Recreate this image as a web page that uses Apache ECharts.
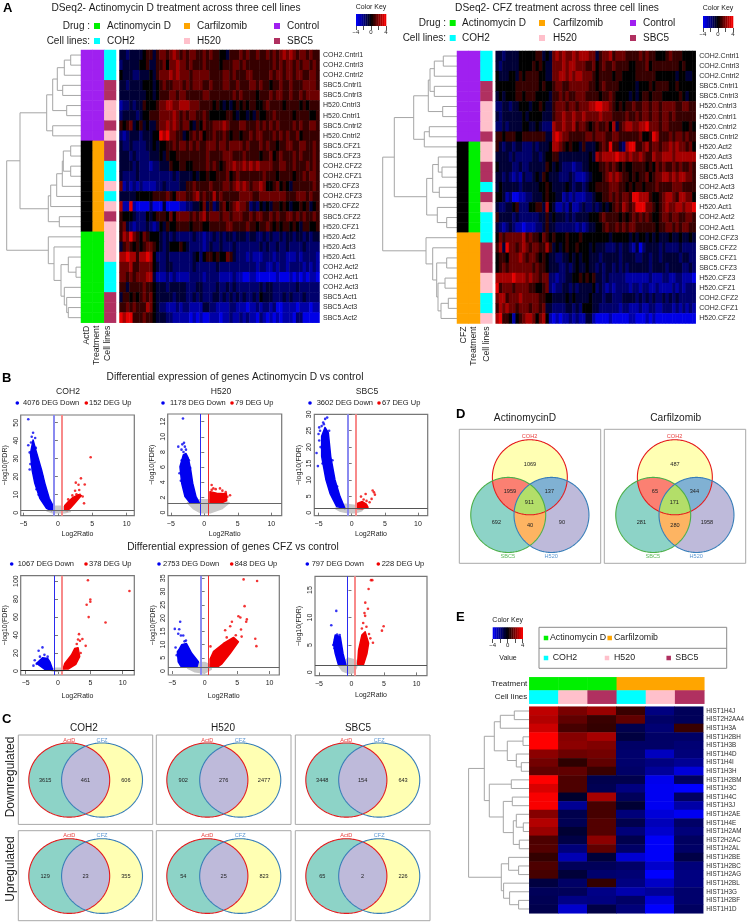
<!DOCTYPE html>
<html><head><meta charset="utf-8">
<style>html,body{margin:0;padding:0;background:#fff}#main{width:747px;height:922px}</style>
<script src="https://cdn.jsdelivr.net/npm/echarts@6/dist/echarts.min.js"></script>
</head><body><div id="main"></div>
<script>
// ---------- DATA: heatmap A (each digit is one colour step: 0 deep blue, 4 black, 8 bright red) ----------
const labelsActD=['COH2.Cntrl1','COH2.Cntrl3','COH2.Cntrl2','SBC5.Cntrl1','SBC5.Cntrl3','H520.Cntrl3','H520.Cntrl1','SBC5.Cntrl2','H520.Cntrl2','SBC5.CFZ1','SBC5.CFZ3','COH2.CFZ2','COH2.CFZ1','H520.CFZ3','COH2.CFZ3','H520.CFZ2','SBC5.CFZ2','H520.CFZ1','H520.Act2','H520.Act3','H520.Act1','COH2.Act2','COH2.Act1','COH2.Act3','SBC5.Act1','SBC5.Act3','SBC5.Act2'];
const labelsCFZ=['COH2.Cntrl1','COH2.Cntrl3','COH2.Cntrl2','SBC5.Cntrl1','SBC5.Cntrl3','H520.Cntrl3','H520.Cntrl1','H520.Cntrl2','SBC5.Cntrl2','H520.Act2','H520.Act3','SBC5.Act1','SBC5.Act3','COH2.Act3','SBC5.Act2','H520.Act1','COH2.Act2','COH2.Act1','COH2.CFZ3','SBC5.CFZ2','SBC5.CFZ1','SBC5.CFZ3','H520.CFZ3','H520.CFZ1','COH2.CFZ2','COH2.CFZ1','H520.CFZ2'];
const heatActD=[
'3323333455 3566567656 5665565655 4435556565 5655656567 6765665655',
'2333334453 3556466766 5655565555 4555665655 5555556565 6656566565',
'4333223334 3566676766 6566666555 5665655566 5555565665 6656655665',
'3323333444 3456556665 6566655655 5665565556 6565545565 5655566665',
'3333333344 3455566566 5555566555 5555656555 5455565665 5655656666',
'1223233544 4566776677 7666555545 4343454545 5445655554 5555454555',
'2333323445 5566667656 5665565444 4455434434 3544556555 5545555445',
'5456345343 3566767656 6435465566 6765556655 5656565655 5565655665',
'2123332333 4487866553 4565645565 5654554556 5665556565 6556455555',
'3223222233 4344556566 5656556665 6656666565 5565655455 6655665565',
'3332322223 3343544555 5555556555 5666555655 5545564565 5565655565',
'3333232221 2233354455 4455556565 4566766767 6766665566 5565556565',
'3222232222 2222223233 3343445445 5564565555 5556555455 5545565665',
'6121212111 1223222233 5565555655 5665676765 6676445645 4355555565',
'3333344444 5555654666 5567565575 6555556666 5566666666 5556665655',
'7118100002 0003000011 2233463523 5645676652 3243435545 4344545345',
'5444322243 4555464666 6565675666 5665666556 5665565655 6656565565',
'5632122232 1243544555 5455544555 5566555565 5455654545 5454355445',
'5768654654 4432323222 2232212232 3233233323 3223232232 3323323233',
'3565454566 5432344454 3222212322 3222322222 2232322322 3222232222',
'7787757787 4222322222 2234245545 4465322212 1112221222 1112122221',
'6667556666 4322332222 2232222223 2222222222 2122112122 1222212121',
'6656566677 3111212111 1222212222 1111211001 1000000100 0101010110',
'5535555655 4333233333 2223322223 2232322222 2232332222 2223222222',
'3554545656 4333332333 2232322233 2323232322 3243332223 2322232222',
'5565655576 4322111212 2111133221 1112211101 1212212001 1110111011',
'8788555655 4333221111 1010100111 0112112121 1021010101 1102200000'];
const heatCFZ=[
'3323333444 4455343676 7667677766 3566756665 5556565544 4565554444',
'3233333444 4545433666 7677666556 4565565555 4455564555 5555545444',
'4333443545 5554433667 7676776665 4555545544 4455555544 4444344334',
'4444445555 5554544566 5566666655 4565555444 4434445455 5544544444',
'3434445545 5544443556 5655666555 5455654444 3434554555 4444454344',
'2233233444 3445433566 6566566677 8877654545 5655665665 6666556655',
'3233333343 4444333566 7667667666 6766655556 5565665665 6656555555',
'2232333344 3343222766 7667566545 6556473567 7667786665 6655554454',
'5545554455 5555533787 6655555665 6665566555 5556445875 5565665655',
'5323323322 2323334776 5454435333 4565855327 8855675665 6676766564',
'3333232222 2332344553 3333333343 7677778776 7667655766 7776777777',
'4333322322 3333354343 2221223344 4556565454 4555545465 6556565565',
'3323212132 2343543332 2232111234 4456767655 4545564566 7767677665',
'3433333233 3334454333 3432332344 5555666554 5455455565 5556665555',
'4431200112 2333454433 1212111223 4455656566 5887775445 6776577664',
'3223345222 4455374311 2131123223 2343456576 5688866545 6766776778',
'5333323222 2223353433 3232333344 4565555454 5656565445 6656655665',
'3212321101 1122353322 2222121233 4456556565 6655555545 5665656655',
'4656666675 6554654544 4544454444 4444344444 3434434343 3343343343',
'5738665676 5665575343 4544544434 3332223233 2130233332 3222232222',
'4554666765 6654543322 3343434433 3233333233 3322332332 3333323322',
'4565666666 6565543332 2323433433 2323323232 3333332333 3233332232',
'7777787776 7665662212 2334454545 3323222221 1111112111 2211221110',
'8566656666 5544562122 3323233334 2321212222 1221221121 1112121222',
'6775666766 6665544333 3434333343 3323322233 3323232322 3232322222',
'5767665666 5665633222 2332324443 3222222122 1112112211 2221212121',
'7855414567 7646741010 1121211331 0000100000 1100010100 0000000000'];
// one heat value per digit 0..8, read against the colour key
const digitValues=[-3.6,-2.6,-1.7,-.85,0,.85,1.7,2.6,3.6];
// dendrograms: [height, left, right], a plain number is a row
const treeActD=[74.3,[61,[34.3,[28.3,[23.7,[16.7,[10.3,0,1],2],[18.3,3,4]],[14.3,5,6]],[28.3,7,8]],[32.7,[30.3,[24.3,[18.7,[17.7,[10.3,9,10],[10.3,11,12]],13],14],15],[21.7,16,17]]],[32.7,18,[27,19,[20,[12.7,20,[5,21,22]],[16.7,23,[14.3,24,[12.7,25,26]]]]]]];
const treeCFZ=[74.3,[62.7,[43.3,[28.7,[27,[22.7,[13.7,0,1],2],[22.7,3,4]],[14.3,5,6]],[32.7,[27.7,7,8],9]],[30.3,[24.3,[18.7,10,[15,11,12]],[17.7,13,14]],[19.7,15,[10.3,16,17]]]],[31,18,[24.3,19,[20.3,[10.3,20,21],[19,[12,22,23],[16,[8.7,24,25],26]]]]]];
// ---------- DATA: panel E ----------
const histones=['HIST1H4J','HIST2H2AA4','HIST1H3A','HIST1H2BH','HIST1H3B','HIST1H4D','HIST1H4I','HIST1H3H','HIST1H2BM','HIST1H3C','HIST1H4C','HIST1H3J','HIST1H2AE','HIST1H4E','HIST1H2AM','HIST2H2AC','HIST1H2AL','HIST1H2BE','HIST1H2BC','HIST1H2AG','HIST1H2BL','HIST1H3G','HIST1H2BF','HIST1H1D'];
const histoneValues=[[3,1.9,2.4,.9,-2,-1.4],[2.8,1.5,.9,1.5,-1.6,-1.4],[3.2,1.1,.8,-1.2,-1.8,.9],[4,2.1,2.6,-1,-1.6,-1.6],[4,2.2,2,-1.6,-1.6,-1.8],[2.2,1.7,1.8,-1.7,-3,-1.9],[1.8,.7,1.5,-1.7,-2,-2.3],[1.5,1.5,.9,-1.6,-2.4,-3.4],[4,1.2,-1.2,-1.2,-3.7,-1.5],[3.4,1.2,-1.3,-2,-3.8,-4],[3.9,-.7,2.6,-1.4,-3.8,-1.5],[3.9,-2.3,1.1,-.8,-3.8,-2.6],[2.1,-1.2,1.1,-1.9,-3.4,-3.8],[2.8,-1.3,1.3,-1.2,-2.9,-1.6],[2.4,-.8,1.3,-1.9,-3.2,-1.9],[1.2,-1.1,2.2,-1.2,-3.9,-1.5],[1.3,-1.9,1.5,-1.6,-3.9,-1.6],[.8,-2.8,-.9,-3.3,-3.9,-1.1],[1.2,-1.4,-1.4,-1.6,-3.2,-1.9],[1.1,-.9,-1.7,-1.8,-4,-2],[-1,-1.6,.8,-2,-3.1,-2],[-1.4,-1.4,-2.1,-2.7,-2.4,-1.7],[-1.3,-2.1,-2,-1.6,-3.4,-1.7],[-1.2,-3.2,-1.1,-1.9,-4,-1.5]];
const treeHist=[60.7,[45,[35,[29,[15,0,1],2],[22,[6.3,3,4],[13,5,[8,6,7]]]],[40,[18,8,9],[26,[17,10,11],[16,[13,12,[6,13,14]],[10,15,16]]]]],[28,[20.7,17,[10.7,18,19]],[25.7,20,[19.7,21,[10.7,22,23]]]]];
const histTreatment=['Act','Act','Act','CFZ','CFZ','CFZ'];
const histCells=['COH2','H520','SBC5','COH2','H520','SBC5'];
const keySteps=[-4,-3.5,-3,-2.5,-2,-1.5,-1,-.5,0,.5,1,1.5,2,2.5,3,3.5];
// ---------- DATA: volcano panels (dense clouds as outlines, sparse points one by one) ----------
const v1Gray=[[-1.6,1],[-1,3],[-.3,3.6],[.6,3.6],[1.3,2.4],[1.8,.6],[1,0],[-.8,0]];
const v1BlueCloud=[[-3.6,40.4],[-3.98,33],[-3.74,23.7],[-3.35,16.3],[-2.62,8],[-1.65,2.4],[-.93,1.2],[-.68,1.6],[-.77,4.3],[-1.26,8],[-1.89,16.3],[-2.37,23.7],[-3.2,34.8]];
const v1RedCloud=[[1,1.3],[1,4],[1.6,6.5],[2.2,8.5],[3,10],[3.4,9.5],[2.6,6],[1.8,2.5],[1.4,1.2]];
const v1BlueDots=[[-4.3,51.9],[-3.6,44.4],[-3.8,42.2],[-3.3,41.5],[-4.3,37.5],[-3.9,39],[-4.1,24],[-4.1,33.5],[-3.2,36],[-4,27],[-3.5,37],[-2.9,26],[-2.2,20],[-3.1,13],[-2.8,10]];
const v1RedDots=[[4.76,30.8],[3.35,19.1],[2.6,16.7],[3.9,15.7],[3,15.5],[2.5,12.2],[3.1,12.6],[3.6,9],[3.8,5.2],[2.7,10.2],[3.2,10],[1.5,7.4],[2.1,9.6]];
const v2Gray=[[-2.5,1.3],[-1.6,.5],[-.6,0],[1,0],[2.6,.5],[3.7,1.3],[2,1.7],[-1,1.7]];
const v2BlueCloud=[[-3.13,7.6],[-3.63,6.07],[-3.37,3.88],[-2.88,2.11],[-2.13,1.3],[-.75,1.3],[-1.24,2.11],[-1.73,3.88],[-2.03,5.63],[-2.39,7.2],[-2.73,7.8]];
const v2RedCloud=[[.85,1.3],[.85,2.77],[1.85,2.55],[3.3,2.5],[3.34,1.6],[2.6,1.3]];
const v2BlueDots=[[-3.18,12.4],[-3.03,9.2],[-3.28,9],[-3.88,8.7],[-3.4,8.3],[-2.73,8.3],[-3.37,6.9],[-3.5,4.2],[-3.1,8],[-2.6,7.2],[-3.7,5.2],[-2.9,8.7],[-2.3,6.9],[-2.1,5.9],[-2.9,6.5]];
const v2RedDots=[[1.1,3.65],[1.35,3.2],[3.44,2.1],[2.34,3.2],[3.84,2.3],[2.7,2.9],[1.7,3.1],[3.2,2.7],[1.1,3]];
const v3Gray=[[-2.5,1.3],[-1.7,.4],[-.6,0],[.6,0],[1.5,.6],[1.8,1.5],[.6,2.2],[-1,2.6]];
const v3BlueCloud=[[-4.03,26],[-4.53,23.3],[-4.53,17.2],[-3.88,10],[-3.27,5.9],[-2.26,1.85],[-1.01,1.3],[-1.76,4.9],[-2.52,10],[-3.17,17.2],[-3.53,24.4]];
const v3RedCloud=[[.75,1.3],[.85,2.8],[1.6,3.4],[2.2,2.6],[2.46,1.6],[1.6,1.2]];
const v3BlueDots=[[-4,28.6],[-3.7,29],[-4.3,27.5],[-4.9,26],[-4.78,25],[-4.53,26.4],[-5.3,18.2],[-5.1,14.2],[-4.9,22],[-5,24],[-4.7,20],[-4.2,27],[-3.4,25],[-2.9,16],[-4.4,15],[-2.2,8]];
const v3RedDots=[[3.16,6.75],[3.36,6.2],[2.1,5.7],[1.4,4.9],[3,4.2],[2.24,3.6],[2.24,1.8],[3.5,5.5],[2.7,3.2],[1.8,4]];
const v4Gray=[[-1.4,1],[-.6,3],[.5,3],[1.1,1],[.6,0],[-.8,0]];
const v4BlueCloud=[[-3.3,8.5],[-2.4,14.8],[-1.6,14],[-1.26,10.2],[-.85,1.9],[-2.03,1.9]];
const v4RedCloud=[[.78,2.2],[1.05,8.5],[2.07,17.8],[2.58,25],[3.1,26],[3.35,16],[2.74,7.4],[1.55,2.2]];
const v4BlueDots=[[-2.4,26.3],[-3,22.6],[-3.6,12],[-3.3,8],[-2.8,16],[-3.8,6],[-2.1,18],[-1.6,16]];
const v4RedDots=[[4.63,101],[11.05,89],[5,79.6],[5,77],[4.43,73.7],[4.74,60],[7.35,54],[3.25,41],[3.77,35.6],[3.4,33.7],[4.28,28],[3.1,35],[2.9,30],[3.5,20]];
const v5Gray=[[-2.6,1],[-1.5,3],[0,3.2],[1,2.2],[1,.6],[0,-.8],[-1.5,-.3]];
const v5BlueCloud=[[-4.2,7.3],[-4.07,3.5],[-3.55,1.4],[-1.2,1.4],[-.97,3.5],[-2,6.7],[-2.8,10.4],[-3.55,9.9],[-3.97,8]];
const v5RedCloud=[[.84,1.4],[.84,4.5],[1.35,7.3],[2.9,10.4],[4.45,12.7],[5.2,11],[3.94,6.7],[2.65,2.7],[1.88,1.4]];
const v5BlueDots=[[-3.77,18.6],[-4.6,15.9],[-3.92,15.8],[-4.07,14.1],[-3.66,13.4],[-4.48,8.9],[-2.88,11.5],[-3.3,13.4],[-3.1,11.2],[-4.3,6]];
const v5RedDots=[[6,34.6],[8.08,34],[6.15,24.5],[5.2,20.7],[5.5,20.2],[6.5,19.5],[6.4,18.6],[4.2,18.6],[3.94,16.9],[5.6,15.7],[3.16,15.4],[7.8,12.2],[7.97,9.4],[5.7,13],[4.8,13.5],[3.4,12.7],[.9,9.3]];
const v6Gray=[[-2,1.3],[-1.4,.3],[-.4,-.2],[.4,0],[.8,1],[.7,2.2],[-.5,2.6]];
const v6BlueCloud=[[-2.75,5.3],[-2.5,6.8],[-1.72,6.5],[-1.3,3.46],[-.85,1.3],[-1.98,1.3],[-2.5,3.46]];
const v6RedCloud=[[.94,1.5],[1.09,4.06],[1.6,6.8],[2.1,7.4],[2.63,5.3],[2.38,3.46],[1.86,1.5]];
const v6BlueDots=[[-2.33,11.2],[-3.1,8.6],[-2.2,6.9],[-2.8,5],[-1.8,6.8],[-2.5,6],[-2.6,4.4]];
const v6RedDots=[[3,16.8],[3.2,16.8],[2.63,15.2],[2.12,12.7],[2.53,11.6],[2,10.8],[2.1,10.3],[4.94,8.4],[4.68,7.6],[3.3,5.4],[2.9,6.2],[1.6,8],[2.3,8.3],[2.7,7],[1.8,9]];
// ---------- DATA: Venn counts ----------
const vennDown=[[3615,461,606],[902,276,2477],[3448,154,643]];
const vennUp=[[129,23,355],[54,25,823],[65,2,226]];
const vennActD=[1069,1959,137,911,692,40,90];
const vennCarf=[487,65,344,171,281,280,1958];

// ---------- helpers ----------
const FONT="'Liberation Sans',Arial,sans-serif", INK='#1c1c1c';
const COL={green:'#00f000',orange:'#ffa500',purple:'#a020f0',black:'#000000',cyan:'#00ffff',pink:'#ffc0cb',maroon:'#b03060'};
const palette=Object.keys(COL);
const palIdx=n=>palette.indexOf(n);
const option={animation:false,backgroundColor:'#fff',textStyle:{fontFamily:FONT},grid:[],xAxis:[],yAxis:[],series:[],visualMap:[],graphic:{elements:[]}};
const G=option.graphic.elements, heatIdx=[], sideIdx=[];
function T(text,x,y,size,o={}){G.push({type:'text',x,y,rotation:o.rot||0,silent:true,z:20,style:{text,fontSize:size,fontFamily:FONT,fontWeight:o.weight||'normal',fill:o.fill||INK,align:o.align||'left',verticalAlign:'middle'}});}
function SQ(x,y,s,c){G.push({type:'rect',silent:true,z:20,shape:{x:x-s/2,y:y-s/2,width:s,height:s},style:{fill:c}});}
function DOT(x,y,c){G.push({type:'circle',silent:true,z:20,shape:{cx:x,cy:y,r:1.8},style:{fill:c}});}
function addGrid(x,y,w,h,xa,ya,extra={}){const i=option.grid.length;option.grid.push(Object.assign({left:x,top:y,width:w,height:h,show:false},extra));option.xAxis.push(Object.assign({gridIndex:i},xa));option.yAxis.push(Object.assign({gridIndex:i},ya));return i;}
const hiddenVal=(min,max,inv)=>({type:'value',min,max,inverse:!!inv,show:false,splitLine:{show:false}});
const hiddenCat=data=>({type:'category',data,show:false});
const range=n=>Array.from({length:n},(_,i)=>i);
function heatSeries(g,data){heatIdx.push(option.series.length);option.series.push({type:'heatmap',xAxisIndex:g,yAxisIndex:g,data,progressive:0,silent:true});}
function sideSeries(g,data){sideIdx.push(option.series.length);option.series.push({type:'heatmap',xAxisIndex:g,yAxisIndex:g,data,progressive:0,silent:true});}
const parseRows=rows=>rows.flatMap((r,y)=>[...r.replace(/ /g,'')].map((c,x)=>[x,y,digitValues[+c]]));
function rowAxis(labels,size,margin){return {type:'category',data:labels,inverse:true,position:'right',axisLine:{show:false},axisTick:{show:false},axisLabel:{fontSize:size,color:'#2a2a2a',margin,interval:0,fontFamily:FONT}};}
function keyColor(v){const t=Math.abs(v)/4,c=Math.round(255*t);return v<0?`rgb(0,0,${c})`:`rgb(${c},0,0)`;}
function colorKey(x,y,w,h){const g=addGrid(x,y,w,h,{type:'value',min:-4,max:4,interval:2,splitLine:{show:false},axisLine:{show:false},axisTick:{length:4,lineStyle:{color:'#222',width:.8}},axisLabel:{fontSize:6,color:INK,margin:3,customValues:[-4,0,4],formatter:v=>String(v).replace('-','\u2212')}},hiddenVal(0,1));
 option.series.push({type:'custom',xAxisIndex:g,yAxisIndex:g,silent:true,data:keySteps.map(v=>[v,0]),encode:{x:0,y:1},renderItem:(p,api)=>{const v=api.value(0),a=api.coord([v,1]),b=api.coord([v+.5,0]);return {type:'rect',shape:{x:a[0],y:a[1],width:b[0]-a[0]+.3,height:b[1]-a[1]},style:{fill:keyColor(v+.25)}};}});}
function flattenTree(node,out){if(typeof node==='number')return {y:node+.5,h:0};const l=flattenTree(node[1],out),r=flattenTree(node[2],out);out.push([l.h,l.y,node[0],r.y,r.h]);return {y:(l.y+r.y)/2,h:node[0]};}
function dendro(x,y,w,h,tree,hmax,rows){const segs=[];flattenTree(tree,segs);const g=addGrid(x,y,w,h,hiddenVal(0,hmax,true),hiddenVal(0,rows,true));
 option.series.push({type:'custom',xAxisIndex:g,yAxisIndex:g,silent:true,data:segs,encode:{x:2,y:1},renderItem:(p,api)=>{const [h1,y1,hh,y2,h2]=[0,1,2,3,4].map(i=>api.value(i));return {type:'polyline',shape:{points:[api.coord([h1,y1]),api.coord([hh,y1]),api.coord([hh,y2]),api.coord([h2,y2])]},style:{stroke:'#a6a6a6',lineWidth:1,fill:null}};}});}
function cellColors(labels,focal){const t=l=>l.includes('Cntrl')?'purple':(l.includes('CFZ')?'orange':'green');const cell=l=>({COH2:'cyan',H520:'pink',SBC5:'maroon'})[l.slice(0,4)];const out=[];labels.forEach((l,y)=>{out.push([0,y,palIdx(t(l)==='purple'?'purple':(t(l)===focal?focal:'black'))]);out.push([1,y,palIdx(t(l))]);out.push([2,y,palIdx(cell(l))]);});return out;}

// ---------- panel A ----------
function panelA(o){
 T(o.title,o.titleX,8,10.2,{align:'center'});
 T('Drug :',o.capX,o.y1,10,{align:'right'});T('Cell lines:',o.capX,o.y2,10,{align:'right'});
 [['Actinomycin D','green','COH2','cyan'],['Carfilzomib','orange','H520','pink'],['Control','purple','SBC5','maroon']].forEach((r,i)=>{
  SQ(o.sq[i],o.y1,6,COL[r[1]]);T(r[0],o.tx[i],o.y1,10);SQ(o.sq[i],o.y2,6,COL[r[3]]);T(r[2],o.tx[i],o.y2,10);});
 T('Color Key',o.keyX+15,o.keyLabelY,7,{align:'center'});colorKey(o.keyX,o.keyY,30,12);
 dendro(o.dx,o.y,o.sx-o.dx,o.h,o.tree,o.sx-o.dx,27);
 const s=addGrid(o.sx,o.y,o.sw,o.h,hiddenCat(range(3)),Object.assign(hiddenCat(o.labels),{inverse:true}));sideSeries(s,cellColors(o.labels,o.focal));
 const h=addGrid(o.hx,o.y,200,o.h,hiddenCat(range(60)),rowAxis(o.labels,7,3.5));heatSeries(h,parseRows(o.heat));
 [[o.focalLabel,o.rotX[0]],['Treatment',o.rotX[1]],['Cell lines',o.rotX[2]]].forEach(r=>T(r[0],r[1],o.y+o.h+3,8.7,{rot:Math.PI/2,align:'right'}));
}
panelA({title:'DSeq2- Actinomycin D treatment across three cell lines',titleX:176,capX:90,y1:26,y2:41,sq:[97,187,277],tx:[107,197,287],keyX:356,keyY:14,keyLabelY:7,dx:6,sx:81,sw:35,y:50,h:272.7,tree:treeActD,labels:labelsActD,focal:'green',hx:119.5,heat:heatActD,focalLabel:'ActD',rotX:[87,97,108]});
panelA({title:'DSeq2- CFZ treatment across three cell lines',titleX:557,capX:446,y1:23,y2:38,sq:[452.7,542,633],tx:[462,553,643],keyX:703,keyY:16,keyLabelY:8,dx:382,sx:457,sw:35.3,y:51,h:272.5,tree:treeCFZ,labels:labelsCFZ,focal:'orange',hx:495.7,heat:heatCFZ,focalLabel:'CFZ',rotX:[464,474,486.7]});

// ---------- panel B ----------
const softBlue={color:'#8a8af0',width:2},hardBlue={color:'#2a2af0',width:1},softRed={color:'#f88a8a',width:2},hardRed={color:'#f02a2a',width:1};
const volcanoes=[
{t:'COH2',tx:68,box:[20.7,415,113.6,100.7],xr:[-5.4,11.1],yr:[-1.67,54.3],yt:[0,10,20,30,40,50],gray:v1Gray,bc:v1BlueCloud,rc:v1RedCloud,bd:v1BlueDots,rd:v1RedDots,hl:1.1,hc:'#666',vb:softBlue,vr:softRed,ly:403,ng:14.5,bl:[17.3,23,'4076 DEG Down'],rl:[86.3,89,'152 DEG Up']},
{t:'H520',tx:221,box:[167.7,414,114,101.7],xr:[-5.46,11.55],yr:[-.4,13],yt:[0,2,4,6,8,10,12],gray:v2Gray,bc:v2BlueCloud,rc:v2RedCloud,bd:v2BlueDots,rd:v2RedDots,hl:1.3,hc:'#666',vb:hardBlue,vr:hardRed,ly:403,ng:14.5,bl:[163,170,'1178 DEG Down'],rl:[232,235,'79 DEG Up']},
{t:'SBC5',tx:367,box:[314.3,414.3,113.4,101.4],xr:[-5.64,11.46],yr:[-.92,30],yt:[0,5,10,15,20,25,30],gray:v3Gray,bc:v3BlueCloud,rc:v3RedCloud,bd:v3BlueDots,rd:v3RedDots,hl:1.23,hc:'#555',vb:softBlue,vr:softRed,ly:403,ng:14.5,bl:[310,316.7,'3602 DEG Down'],rl:[379,382,'67 DEG Up']},
{box:[20.7,575.7,113.6,99.3],xr:[-5.77,11.8],yr:[-4.4,106],yt:[0,20,40,60,80,100],gray:v4Gray,bc:v4BlueCloud,rc:v4RedCloud,bd:v4BlueDots,rd:v4RedDots,hl:.9,hc:'#222',vb:hardBlue,vr:softRed,ly:564,ng:17.5,bl:[11.7,17.7,'1067 DEG Down'],rl:[86,89,'378 DEG Up']},
{box:[168.3,575.7,111,99.3],xr:[-5.6,11.5],yr:[-1.5,36],yt:[0,5,10,15,20,25,30,35],gray:v5Gray,bc:v5BlueCloud,rc:v5RedCloud,bd:v5BlueDots,rd:v5RedDots,hl:1.4,hc:'#666',vb:softBlue,vr:hardRed,ly:564,ng:17.5,bl:[159,163,'2753 DEG Down'],rl:[231.7,234.7,'848 DEG Up']},
{box:[315,576.3,112,99.4],xr:[-5.6,11.6],yr:[-.6,17.5],yt:[0,5,10,15],gray:v6Gray,bc:v6BlueCloud,rc:v6RedCloud,bd:v6BlueDots,rd:v6RedDots,hl:1.27,hc:'#555',vb:hardBlue,vr:softRed,ly:564,ng:15.5,bl:[307.3,311.7,'797 DEG Down'],rl:[378.3,381.7,'228 DEG Up']}];
const xTickVals=[-5,0,5,10];
const minus=v=>String(v).replace('-','\u2212');
function cloud(g,pts,color,extra){const s={type:'custom',xAxisIndex:g,yAxisIndex:g,silent:true,data:pts,encode:{x:0,y:1},renderItem:(p,api)=>p.dataIndex?null:{type:'polygon',shape:{points:pts.map(q=>api.coord(q))},style:{fill:color,stroke:color,lineWidth:1.5,lineJoin:'round'}}};option.series.push(Object.assign(s,extra||{}));}
volcanoes.forEach(v=>{
 const [x,y,w,h]=v.box;
 const tickLine={length:3,lineStyle:{color:'#555',width:.8}};
 const g=addGrid(x,y,w,h,{type:'value',min:v.xr[0],max:v.xr[1],splitLine:{show:false},axisLine:{show:false},axisTick:Object.assign({customValues:xTickVals},tickLine),axisLabel:{customValues:xTickVals,fontSize:7,color:INK,margin:4.5,formatter:minus},name:'Log2Ratio',nameLocation:'middle',nameGap:v.ng,nameTextStyle:{fontSize:7,color:INK}},
  {type:'value',min:v.yr[0],max:v.yr[1],splitLine:{show:false},axisLine:{show:false},axisTick:Object.assign({customValues:v.yt},tickLine),axisLabel:{customValues:v.yt,fontSize:7,color:INK,margin:1.5,rotate:90,formatter:minus},name:'\u2212log10(FDR)',nameLocation:'middle',nameRotate:90,nameGap:12,nameTextStyle:{fontSize:7,color:INK}},
  {show:true,borderColor:'#777',borderWidth:1.2,backgroundColor:'transparent'});
 cloud(g,v.gray,'#c8c8c8',{markLine:{silent:true,symbol:'none',label:{show:false},z:9,animation:false,data:[{xAxis:-.58,lineStyle:Object.assign({type:'solid'},v.vb)},{xAxis:.58,lineStyle:Object.assign({type:'solid'},v.vr)},{yAxis:v.hl,lineStyle:{type:'solid',color:v.hc,width:1}}]}});
 cloud(g,v.bc,'#0000f0');cloud(g,v.rc,'#f00000');
 option.series.push({type:'scatter',xAxisIndex:g,yAxisIndex:g,silent:true,data:v.bd,symbolSize:2.6,itemStyle:{color:'#0000f0'}});
 option.series.push({type:'scatter',xAxisIndex:g,yAxisIndex:g,silent:true,data:v.rd,symbolSize:2.6,itemStyle:{color:'#f00000'}});
 if(v.t)T(v.t,v.tx,392,8.6,{align:'center'});
 DOT(v.bl[0],v.ly,'#0000f0');T(v.bl[2],v.bl[1],v.ly,7.5);DOT(v.rl[0],v.ly,'#f00000');T(v.rl[2],v.rl[1],v.ly,7.5);
});
T('Differential expression of genes Actinomycin D vs control',235,377,10.2,{align:'center'});
T('Differential expression of genes CFZ vs control',233,547,10.2,{align:'center'});

// ---------- Venn ----------
function ring(c,px,py,rx,ry){return range(240).map(i=>{const a=i/240*2*Math.PI;return [px+rx*Math.cos(a),py+ry*Math.sin(a)];});}
function venn(x,y,w,h,circles,regions,texts){
 const g=addGrid(x,y,w,h,hiddenVal(0,100),hiddenVal(0,100,true),{show:true,borderColor:'#a8a8a8',borderWidth:1,backgroundColor:'transparent'});
 option.series.push({type:'custom',xAxisIndex:g,yAxisIndex:g,silent:true,data:circles.map(c=>[c[0],c[1]]),encode:{x:0,y:1},renderItem:(p,api)=>{
  if(p.dataIndex)return null;
  const C=circles.map(c=>{const o=api.coord([c[0],c[1]]),a=api.coord([c[0]+c[2],c[1]+c[3]]);return {px:o[0],py:o[1],rx:Math.abs(a[0]-o[0]),ry:Math.abs(a[1]-o[1]),stroke:c[4]};});
  const inside=(q,k)=>((q[0]-k.px)/k.rx)**2+((q[1]-k.py)/k.ry)**2<=1.0001;
  const ch=[];
  regions.forEach(r=>{const ms=r[0].map(i=>C[i]);let pts=[];ms.forEach(m=>{ring(0,m.px,m.py,m.rx,m.ry).forEach(q=>{if(ms.every(o=>o===m||inside(q,o)))pts.push(q);});});
   const cx=pts.reduce((s,q)=>s+q[0],0)/pts.length,cy=pts.reduce((s,q)=>s+q[1],0)/pts.length;pts.sort((a,b)=>Math.atan2(a[1]-cy,a[0]-cx)-Math.atan2(b[1]-cy,b[0]-cx));
   ch.push({type:'polygon',shape:{points:pts},style:{fill:r[1]}});});
  C.forEach(k=>ch.push({type:'polygon',shape:{points:ring(0,k.px,k.py,k.rx,k.ry)},style:{fill:null,stroke:k.stroke,lineWidth:1.1}}));
  texts.forEach(t=>{const q=api.coord([t[0],t[1]]);ch.push({type:'text',x:q[0],y:q[1],style:{text:String(t[2]),fontSize:5.6,fontFamily:FONT,fill:t[3]||'#222',align:'center',verticalAlign:'middle'}});});
  return {type:'group',children:ch};}});
}
const TEAL='#8dd3c7',YEL='#ffffb3',LAV='#bebada';
const vennCols=[[18.3,134.4],[156.3,134.7],[295.3,134.7]],vennRows=[[735,89.4],[830.7,90]];
[vennDown,vennUp].forEach((set,r)=>set.forEach((n,c)=>{
 venn(vennCols[c][0],vennRows[r][0],vennCols[c][1],vennRows[r][1],[[37.9,50.4,30.1,41.5,'#e41a1c'],[62.3,50.4,30.1,41.5,'#377eb8']],[[[0],TEAL],[[1],YEL],[[0,1],LAV]],
  [[37.9,5.7,'ActD','#e8403f'],[62.3,5.7,'CFZ','#5a96d2'],[20,50.4,n[0]],[50,50.4,n[1]],[80,50.4,n[2]]]);}));
['COH2','H520','SBC5'].forEach((t,i)=>T(t,[84,223,358][i],728,10,{align:'center'}));
T('Downregulated',11,777,12,{rot:Math.PI/2,align:'center'});T('Upregulated',11,869,12,{rot:Math.PI/2,align:'center'});
const vennSlots3=[[50,26.6],[35.8,46.3],[63.7,46.3],[49.5,54.7],[26.2,69.4],[50,71.6],[72.6,69.4]];
[[459.3,vennActD],[604.3,vennCarf]].forEach(b=>{
 venn(b[0],429.3,141.4,134,[[49.9,35.8,26.5,28,'#e41a1c'],[34.6,63.9,26.5,28,'#4daf4a'],[65.2,63.9,26.5,28,'#377eb8']],
  [[[0],YEL],[[1],TEAL],[[2],LAV],[[0,1],'#fb8072'],[[0,2],'#80b1d3'],[[1,2],'#fdb462'],[[0,1,2],'#b3de69']],
  [[49.7,5.5,'COH2','#e8403f'],[34.3,95,'SBC5','#5cb85a'],[65,95,'H520','#5a96d2']].concat(vennSlots3.map((s,i)=>[s[0],s[1],b[1][i]])));});
T('ActinomycinD',525,418,10.2,{align:'center'});T('Carfilzomib',675.7,418,10.2,{align:'center'});

// ---------- panel E ----------
T('Color Key',507.7,620,7,{align:'center'});colorKey(492.7,627.3,30,11.7);T('Value',508,658,7,{align:'center'});
G.push({type:'rect',silent:true,z:19,shape:{x:539,y:627.3,width:187.7,height:41},style:{fill:'none',stroke:'#8a8a8a',lineWidth:1}});
G.push({type:'line',silent:true,z:19,shape:{x1:539,y1:648.3,x2:726.7,y2:648.3},style:{stroke:'#8a8a8a',lineWidth:1}});
SQ(546,638,4.5,COL.green);T('Actinomycin D',550,638,8.8);SQ(609.7,638,4.5,COL.orange);T('Carfilzomib',614,638,8.8);
SQ(546,658,4.5,COL.cyan);T('COH2',552.7,658,8.8);SQ(607,658,4.5,COL.pink);T('H520',614,658,8.8);SQ(668.7,658,4.5,COL.maroon);T('SBC5',675.3,658,8.8);
const tg=addGrid(529.3,677.3,175,26.4,hiddenCat(range(6)),{type:'category',data:['Treatment','Cell lines'],inverse:true,axisLine:{show:false},axisTick:{show:false},axisLabel:{fontSize:8,color:INK,margin:2,interval:0,fontFamily:FONT}});
sideSeries(tg,histTreatment.map((t,i)=>[i,0,palIdx(t==='Act'?'green':'orange')]).concat(histCells.map((c,i)=>[i,1,palIdx({COH2:'cyan',H520:'pink',SBC5:'maroon'}[c])])));
dendro(468,706.7,61.3,206.6,treeHist,61.3,24);
const eg=addGrid(529.3,706.7,175,206.6,hiddenCat(range(6)),rowAxis(histones,6.3,3));
heatSeries(eg,histoneValues.flatMap((r,y)=>r.map((v,x)=>[x,y,v])));

// ---------- panel letters ----------
T('A',3,8,13,{weight:'bold',fill:'#000'});T('B',2,378,13,{weight:'bold',fill:'#000'});T('C',2,719,13,{weight:'bold',fill:'#000'});T('D',456,414,13,{weight:'bold',fill:'#000'});T('E',456,617,13,{weight:'bold',fill:'#000'});

option.visualMap=[
 {type:'continuous',show:false,min:-4,max:4,dimension:2,seriesIndex:heatIdx,inRange:{color:['#0000ff','#000000','#ff0000']}},
 {type:'piecewise',show:false,dimension:2,seriesIndex:sideIdx,pieces:palette.map((n,i)=>({value:i,color:COL[n]}))}];
const chart=echarts.init(document.getElementById('main'),null,{renderer:'canvas',width:747,height:922});
chart.setOption(option);
</script></body></html>
